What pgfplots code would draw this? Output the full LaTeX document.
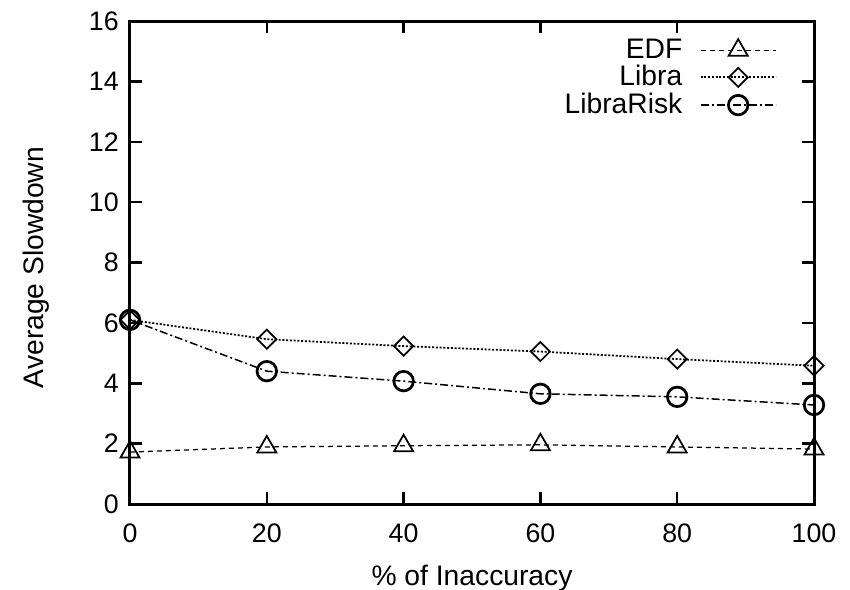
\documentclass[border=0pt]{standalone}
\usepackage{fontspec}
\setmainfont{Liberation Sans}
\usepackage{pgfplots}
\pgfplotsset{compat=1.18}

\begin{document}
\fontsize{10}{12}\selectfont
\begin{tikzpicture}
\begin{axis}[
    width=273.6pt, height=193.2pt,
    scale only axis,
    xmin=0, xmax=100, ymin=0, ymax=16,
    xtick={0,20,...,100}, ytick={0,2,...,16},
    tick align=inside,
    major tick length=4.8pt,
    every tick/.style={black, line width=1pt},
    axis line style={line width=1.2pt},
    /pgf/number format/assume math mode=true,
    tick label style={font=\fontsize{10.7}{12}\selectfont},
    xticklabel style={yshift=-4.5pt},
    yticklabel style={xshift=-1pt},
    xlabel={\% of Inaccuracy},
    ylabel={Average Slowdown},
    label style={font=\fontsize{11.3}{13}\selectfont},
    xlabel style={yshift=-2pt},
    ylabel style={yshift=9pt, xshift=-2pt},
    legend style={draw=none, fill=none, at={(0.946,0.975)}, anchor=north east,
        inner sep=0pt, font=\fontsize{11.3}{13}\selectfont, row sep=-2.6pt,
        /tikz/every odd column/.append style={column sep=5pt}},
    legend cell align=right,
    legend plot pos=right,
    legend image code/.code={
        \draw[mark repeat=2, mark phase=2]
        plot coordinates {(0pt,0pt) (15pt,0pt) (30pt,0pt)};},
]
\addplot[black, line width=0.5pt, dash pattern=on 2pt off 1.6pt,
    mark=triangle, mark size=4.4pt, mark options={solid, line width=0.7pt}]
    coordinates {(0,1.72) (20,1.89) (40,1.93) (60,1.96) (80,1.89) (100,1.82)};
\addlegendentry{EDF}
\addplot[black, line width=0.7pt, dash pattern=on 0.8pt off 0.7pt,
    mark=square, mark size=2.7pt, mark options={solid, rotate=45, line width=0.7pt}]
    coordinates {(0,6.1) (20,5.46) (40,5.23) (60,5.05) (80,4.80) (100,4.58)};
\addlegendentry{Libra}
\addplot[black, line width=0.6pt, dash pattern=on 3.2pt off 1.2pt on 0.8pt off 1.2pt,
    mark=o, mark size=3.9pt, mark options={solid, line width=1.1pt}]
    coordinates {(0,6.1) (20,4.40) (40,4.07) (60,3.65) (80,3.55) (100,3.28)};
\addlegendentry{LibraRisk}
\end{axis}
\pgfresetboundingbox
\path (current axis.south west) ++(-52pt,-34pt) rectangle
      ([xshift=14.4pt, yshift=8.4pt]current axis.north east);
\end{tikzpicture}
\end{document}
